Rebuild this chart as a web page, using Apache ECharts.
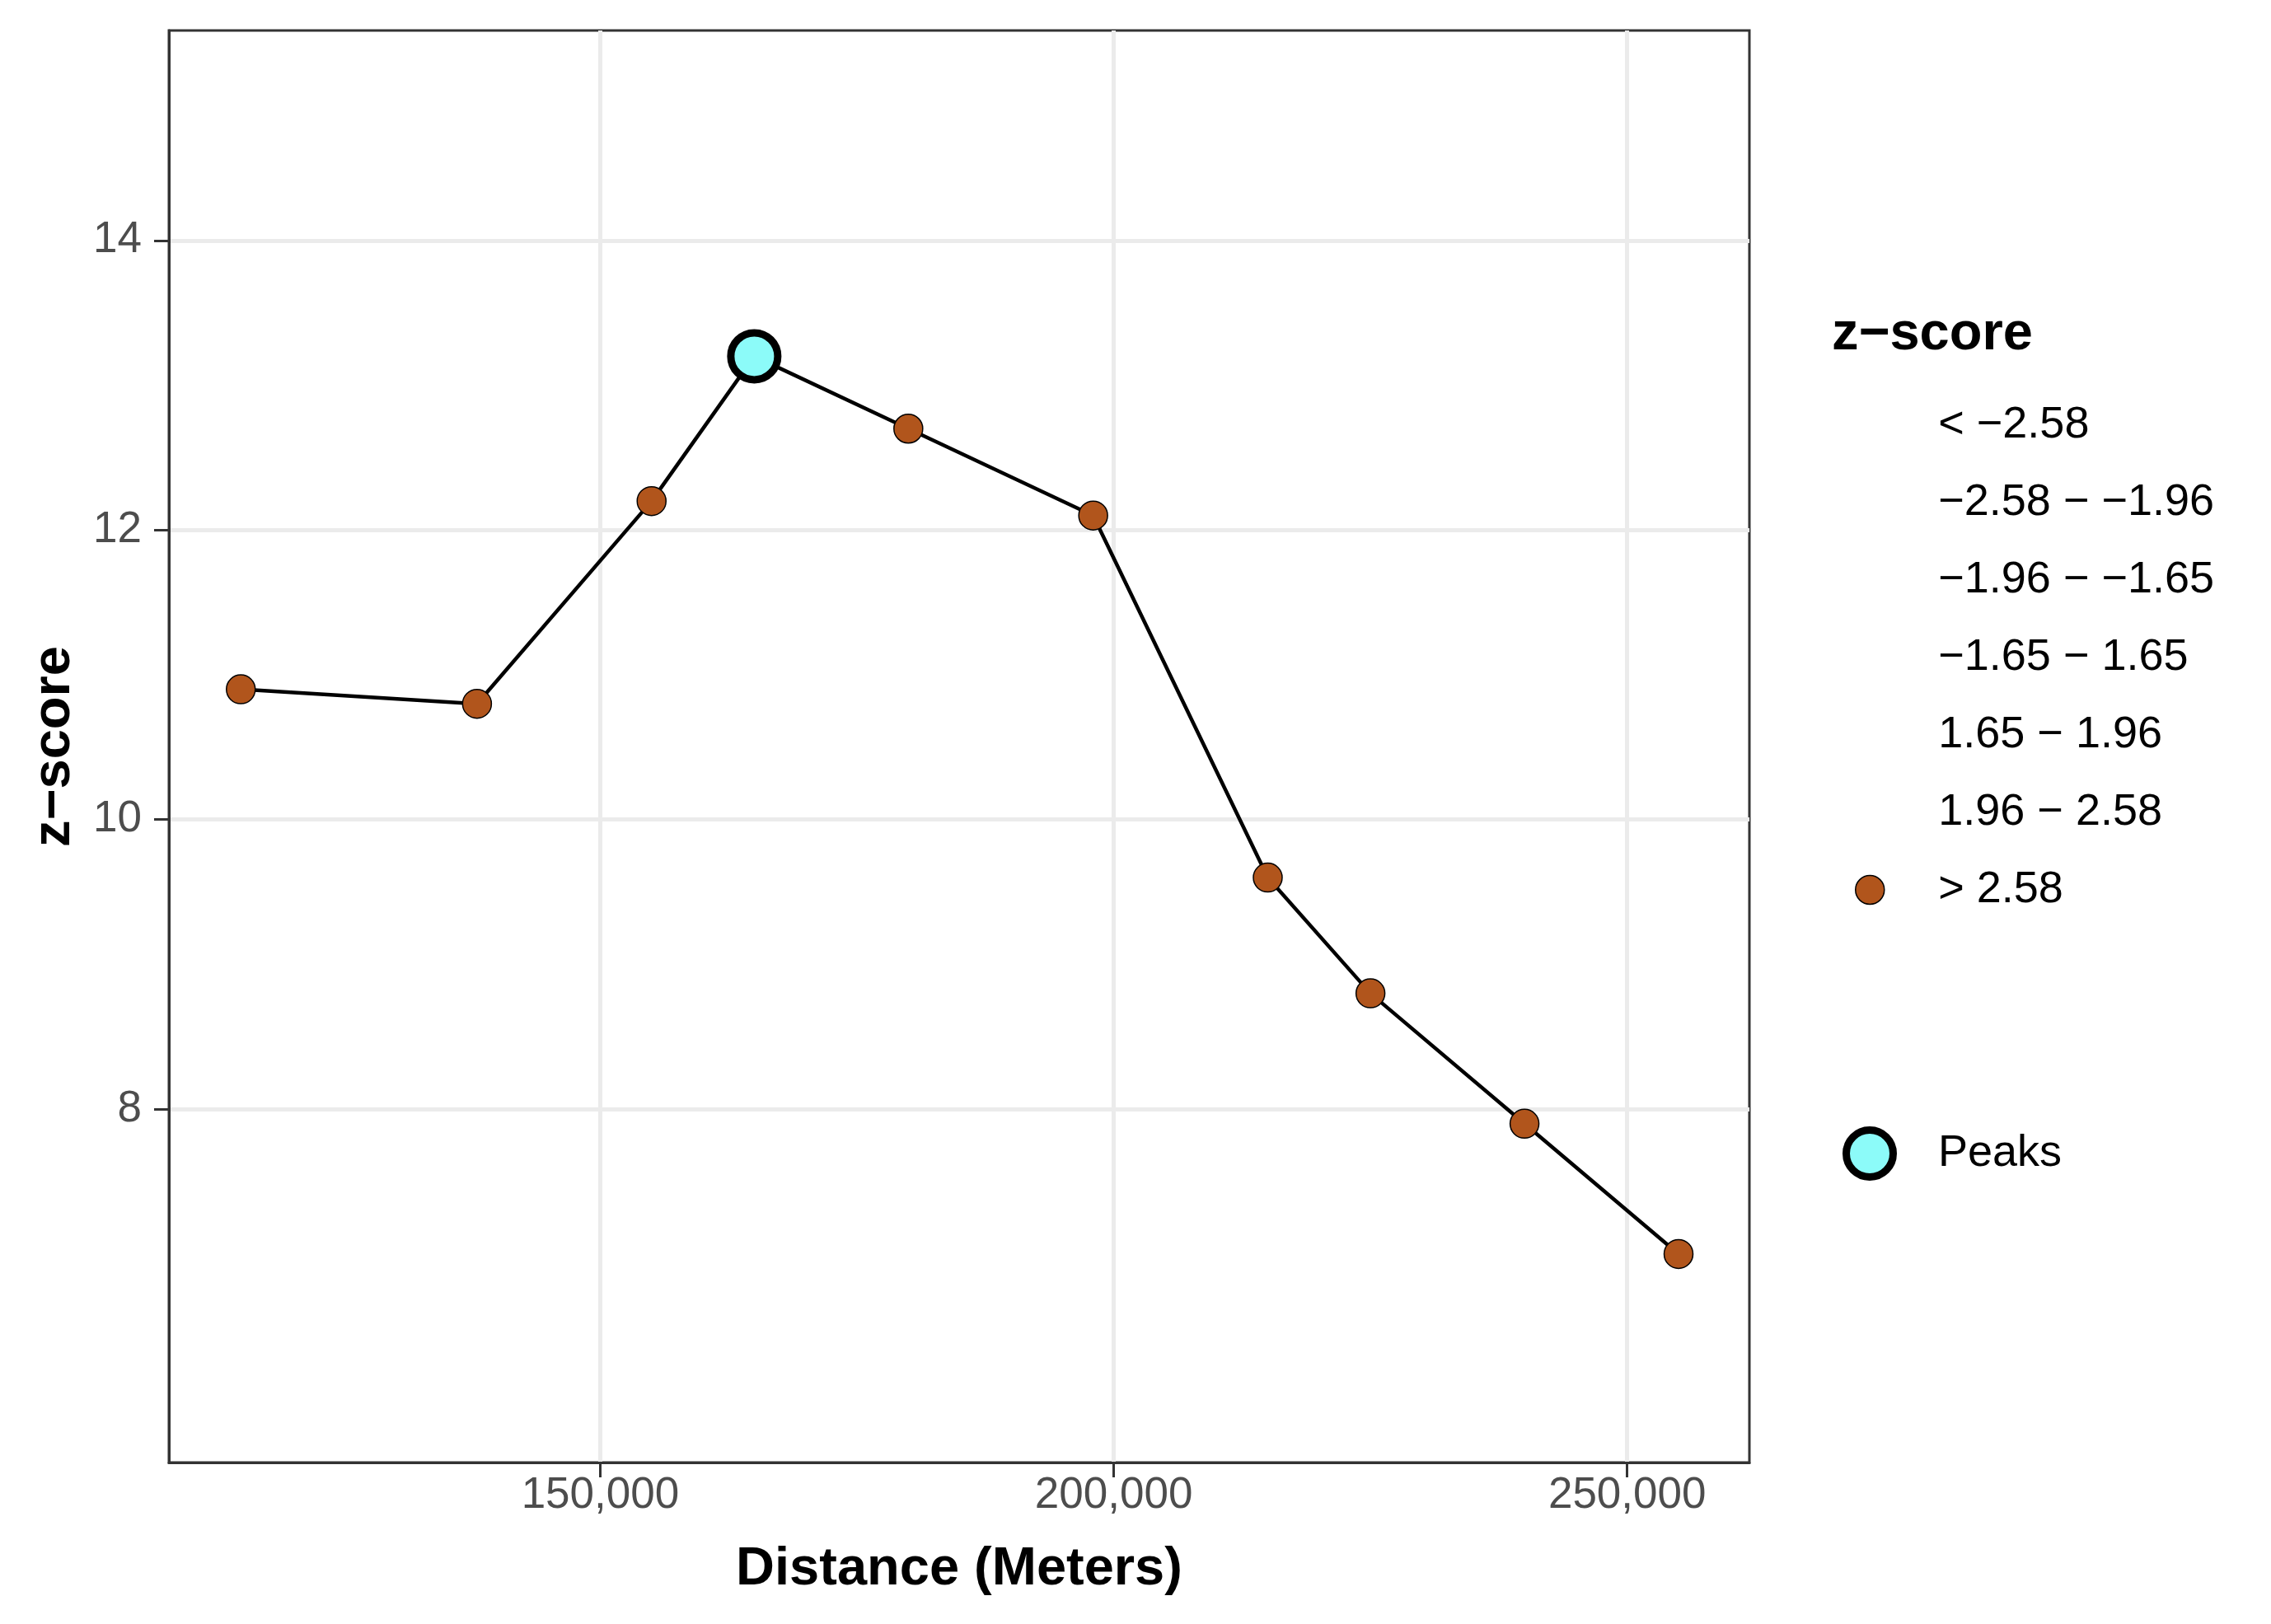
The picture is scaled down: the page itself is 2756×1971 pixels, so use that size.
<!DOCTYPE html>
<html>
<head>
<meta charset="utf-8">
<title>z-score by distance</title>
<script src="https://cdn.jsdelivr.net/npm/echarts@6/dist/echarts.min.js"></script>
<style>
  html, body { margin: 0; padding: 0; background: #fff; }
  #myChart { width: 2756px; height: 1971px; }
</style>
</head>
<body>
<div id="myChart"></div>
<script>
// data
var distance = [115000, 138000, 155000, 165000, 180000, 198000, 215000, 225000, 240000, 255000]
var zscore = [10.9, 10.8, 12.2, 13.2, 12.7, 12.1, 9.6, 8.8, 7.9, 7.0]
var peakDistance = [165000]
var peakZscore = [13.2]
var xTicks = [150000, 200000, 250000]
var yTicks = [8, 10, 12, 14]
var classes = ['< −2.58', '−2.58 − −1.96', '−1.96 − −1.65', '−1.65 − 1.65', '1.65 − 1.96', '1.96 − 2.58', '> 2.58']

var FONT = "'Liberation Sans', Arial, sans-serif"

function pairs (xs, ys) {
  return xs.map(function (x, i) { return [x, ys[i]] })
}

var series = [
  {
    name: 'line',
    type: 'line',
    data: pairs(distance, zscore),
    showSymbol: false,
    symbol: 'none',
    lineStyle: { color: '#000', width: 4.5 },
    z: 2,
    silent: true
  }
]

// one series per class; only the last one has points
classes.forEach(function (c, i) {
  var last = i === classes.length - 1
  series.push({
    name: c,
    type: 'scatter',
    data: last ? pairs(distance, zscore) : [],
    symbol: 'circle',
    symbolSize: 35,
    itemStyle: last
      ? { color: '#B1551C', borderColor: '#000', borderWidth: 1.5, opacity: 1 }
      : { color: 'rgba(0,0,0,0)', borderColor: 'rgba(0,0,0,0)', borderWidth: 0, opacity: 1 },
    z: 3
  })
})

series.push({
  name: 'Peaks',
  type: 'scatter',
  data: pairs(peakDistance, peakZscore),
  symbol: 'circle',
  symbolSize: 57,
  itemStyle: { color: '#8CFBF9', borderColor: '#000', borderWidth: 9, opacity: 1 },
  z: 4
})

var myChart = echarts.init(document.getElementById('myChart'))
myChart.setOption({
  animation: false,
  backgroundColor: '#fff',
  textStyle: { fontFamily: FONT },
  title: {
    text: 'z−score',
    left: 2218,
    top: 366,
    textStyle: { fontFamily: FONT, fontSize: 65, fontWeight: 'bold', color: '#000', lineHeight: 70 }
  },
  legend: [
    {
      data: classes,
      orient: 'vertical',
      left: 2246,
      top: 481,
      itemWidth: 156,
      itemHeight: 35,
      itemGap: 34,
      selectedMode: false,
      itemStyle: { borderWidth: 1.5 },
      textStyle: { fontFamily: FONT, fontSize: 54, color: '#000', lineHeight: 60 }
    },
    {
      data: ['Peaks'],
      orient: 'vertical',
      left: 2231,
      top: 1362,
      itemWidth: 156,
      itemHeight: 57,
      selectedMode: false,
      itemStyle: { borderWidth: 9 },
      textStyle: { fontFamily: FONT, fontSize: 54, color: '#000', lineHeight: 60 }
    }
  ],
  grid: {
    left: 205,
    right: 633,
    top: 37,
    bottom: 196,
    show: true,
    borderColor: '#333333',
    borderWidth: 3,
    backgroundColor: '#fff'
  },
  xAxis: {
    type: 'value',
    min: 108000,
    max: 261900,
    name: 'Distance (Meters)',
    nameLocation: 'middle',
    nameGap: 95,
    nameTextStyle: { fontFamily: FONT, fontSize: 65, fontWeight: 'bold', color: '#000', lineHeight: 70 },
    axisLine: { show: true, lineStyle: { color: '#333333', width: 3 } },
    axisTick: { show: true, length: 18, customValues: xTicks, lineStyle: { color: '#333333', width: 3 } },
    axisLabel: {
      customValues: xTicks,
      margin: 14,
      fontFamily: FONT,
      fontSize: 53,
      color: '#4D4D4D',
      formatter: function (v) { return v.toLocaleString('en-US') }
    },
    splitLine: { show: true, lineStyle: { color: '#EBEBEB', width: 5 } }
  },
  yAxis: {
    type: 'value',
    min: 5.56,
    max: 15.45,
    name: 'z−score',
    nameLocation: 'middle',
    nameGap: 104,
    nameTextStyle: { fontFamily: FONT, fontSize: 65, fontWeight: 'bold', color: '#000', lineHeight: 70 },
    axisLine: { show: true, lineStyle: { color: '#333333', width: 3 } },
    axisTick: { show: true, length: 18, customValues: yTicks, lineStyle: { color: '#333333', width: 3 } },
    axisLabel: {
      customValues: yTicks,
      margin: 33,
      fontFamily: FONT,
      fontSize: 53,
      color: '#4D4D4D'
    },
    splitLine: { show: true, lineStyle: { color: '#EBEBEB', width: 5 } }
  },
  series: series
})
</script>
</body>
</html>
